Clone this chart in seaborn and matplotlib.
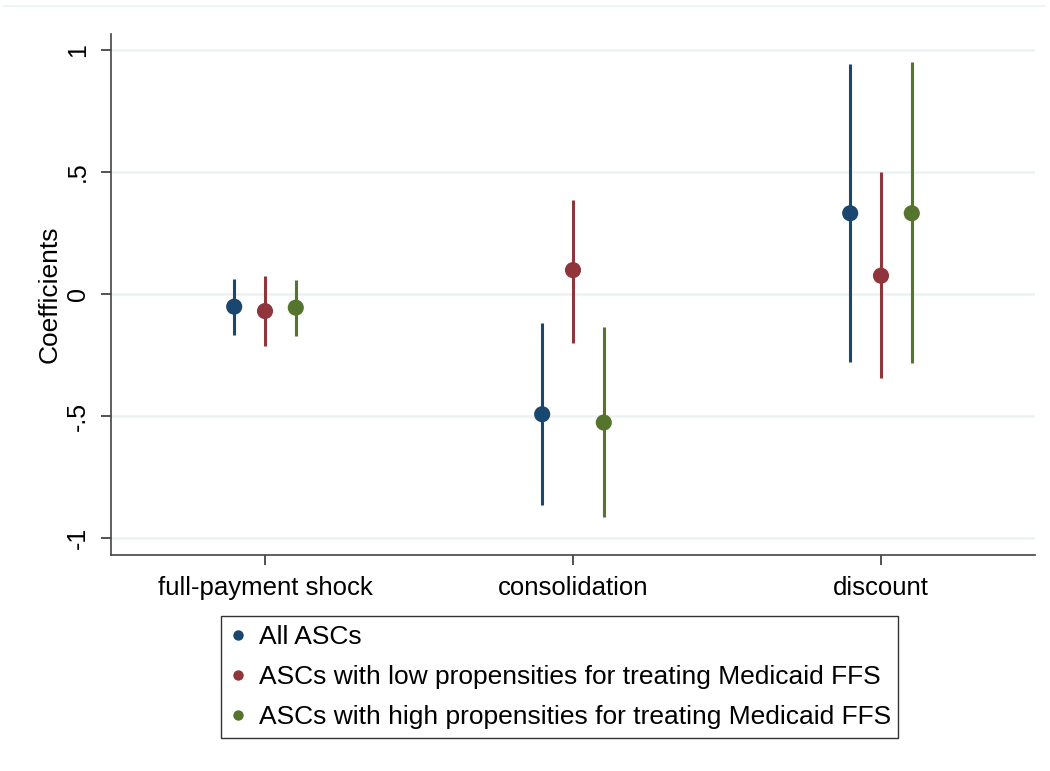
import matplotlib
matplotlib.use("Agg")
import matplotlib.pyplot as plt
import matplotlib.lines as mlines
import numpy as np
import pandas as pd
import seaborn as sns

categories = ["full-payment shock", "consolidation", "discount"]
series = ["All ASCs",
          "ASCs with low propensities for treating Medicaid FFS",
          "ASCs with high propensities for treating Medicaid FFS"]
coef_all = [-0.052, -0.493, 0.331]
lo_all = [-0.168, -0.865, -0.277]
hi_all = [0.060, -0.120, 0.945]
coef_low = [-0.070, 0.098, 0.075]
lo_low = [-0.213, -0.200, -0.343]
hi_low = [0.075, 0.385, 0.499]
coef_high = [-0.056, -0.527, 0.331]
lo_high = [-0.172, -0.915, -0.281]
hi_high = [0.059, -0.134, 0.950]
yticks = [-1, -0.5, 0, 0.5, 1]
yticklabels = ["-1", "-.5", "0", ".5", "1"]
colors = ["#1a476f", "#90353b", "#55752f"]

rows = []
for s_i, (name, c, lo, hi) in enumerate(zip(series,
        [coef_all, coef_low, coef_high],
        [lo_all, lo_low, lo_high],
        [hi_all, hi_low, hi_high])):
    for c_i, cat in enumerate(categories):
        rows.append(dict(series=name, cat=cat, pos=c_i + 1 + (s_i - 1) * 0.1,
                         coef=c[c_i], lo=lo[c_i], hi=hi[c_i]))
df = pd.DataFrame(rows)

sns.set_style("white")
plt.rcParams["font.family"] = ["Liberation Sans", "DejaVu Sans"]
plt.rcParams["text.color"] = "black"
plt.rcParams["xtick.color"] = "black"
plt.rcParams["ytick.color"] = "black"
plt.rcParams["axes.labelcolor"] = "black"

fig = plt.figure(figsize=(10.5, 7.71), dpi=100)
ax = fig.add_axes([0.1057, 0.2802, 0.8800, 0.6757])

for (name, col) in zip(series, colors):
    sub = df[df.series == name]
    ax.vlines(sub.pos, sub.lo, sub.hi, color=col, linewidth=2.2, zorder=2)
sns.scatterplot(data=df, x="pos", y="coef", hue="series", palette=colors,
                s=135, edgecolor="none", legend=False, ax=ax, zorder=3)

ax.set_xlim(0.5, 3.5)
ax.set_ylim(-1.07, 1.066)
ax.set_yticks(yticks)
ax.set_yticklabels(yticklabels, rotation=90, va="center", fontsize=18)
ax.set_xticks([1, 2, 3])
ax.set_xticklabels(categories, fontsize=18.5)
ax.set_xlabel("")
ax.set_ylabel("Coefficients", fontsize=19, labelpad=3)
for y in yticks:
    ax.axhline(y, color="#eaf2f3", linewidth=1.8, zorder=0)
for side in ["top", "right"]:
    ax.spines[side].set_visible(False)
for side in ["left", "bottom"]:
    ax.spines[side].set_color("#444444")
    ax.spines[side].set_linewidth(1.2)
ax.tick_params(axis="both", direction="out", length=7, width=1.1, color="#222222",
               left=True, bottom=True, pad=8)

handles = [mlines.Line2D([], [], linestyle="none", marker="o", markersize=7.5,
                         color=c, markeredgecolor="none") for c in colors]
leg = fig.legend(handles, series, loc="lower left",
                 bbox_to_anchor=(0.2105, 0.0428, 0.645, 0.16),
                 bbox_transform=fig.transFigure, mode="expand",
                 fontsize=19, frameon=True, fancybox=False, borderaxespad=0,
                 handletextpad=0.5, handlelength=0.6, labelspacing=0.6,
                 borderpad=0.35)
leg.get_frame().set_edgecolor("black")
leg.get_frame().set_linewidth(1.0)

fig.add_artist(mlines.Line2D([0.004, 0.995], [1 - 6 / 771, 1 - 6 / 771],
                             transform=fig.transFigure, color="#eaf2f3", linewidth=1.2))

fig.savefig("out.png", dpi=100, facecolor="white")
